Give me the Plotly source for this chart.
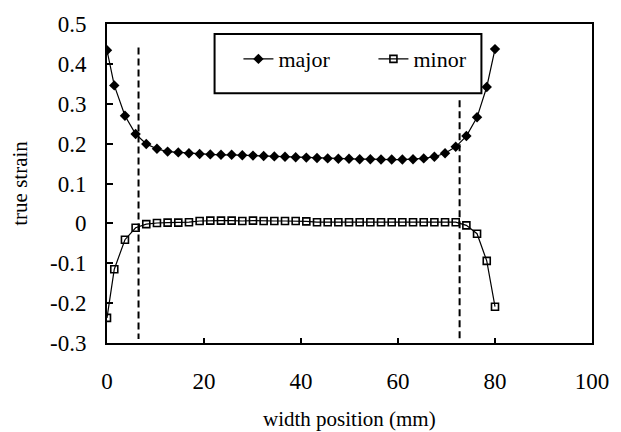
import plotly.graph_objects as go

# ---- data ----
width_pos = [0, 1.5, 3.7, 5.9, 8.1, 10.3, 12.5, 14.7, 16.9, 19.1, 21.3, 23.5, 25.7,
             27.9, 30.1, 32.3, 34.5, 36.7, 38.9, 41.1, 43.3, 45.5, 47.7, 49.9, 52.1,
             54.3, 56.5, 58.7, 60.9, 63.1, 65.3, 67.5, 69.7, 71.9, 74.1, 76.3, 78.3, 80]
major = [0.434, 0.346, 0.270, 0.224, 0.199, 0.187, 0.180, 0.178, 0.176, 0.174, 0.173,
         0.172, 0.172, 0.171, 0.170, 0.169, 0.168, 0.167, 0.166, 0.165, 0.164, 0.163,
         0.162, 0.162, 0.161, 0.161, 0.160, 0.160, 0.160, 0.161, 0.163, 0.167, 0.176,
         0.192, 0.219, 0.266, 0.342, 0.437]
minor = [-0.237, -0.115, -0.041, -0.011, -0.002, 0.001, 0.002, 0.002, 0.003, 0.006,
         0.007, 0.007, 0.007, 0.006, 0.007, 0.006, 0.006, 0.006, 0.006, 0.005, 0.003,
         0.003, 0.003, 0.003, 0.003, 0.003, 0.003, 0.003, 0.003, 0.003, 0.003, 0.003,
         0.003, 0.003, -0.005, -0.026, -0.094, -0.209]

boundary_x = [6.5, 72.7]
boundary_top = [0.441, 0.309]
boundary_bottom = [-0.29, -0.29]

x_ticks = [0, 20, 40, 60, 80, 100]
x_tick_labels = ["0", "20", "40", "60", "80", "100"]
y_ticks = [-0.3, -0.2, -0.1, 0, 0.1, 0.2, 0.3, 0.4, 0.5]
y_tick_labels = ["-0.3", "-0.2", "-0.1", "0", "0.1", "0.2", "0.3", "0.4", "0.5"]

FONT = "Liberation Serif"

fig = go.Figure()

for bx, bt, bb in zip(boundary_x, boundary_top, boundary_bottom):
    fig.add_trace(go.Scatter(x=[bx, bx], y=[bt, bb], mode="lines", showlegend=False,
                             hoverinfo="skip",
                             line=dict(color="black", width=2, dash="7px,4px")))

fig.add_trace(go.Scatter(x=width_pos, y=major, name="major", mode="lines+markers",
                         line=dict(color="black", width=1.2),
                         marker=dict(symbol="diamond", size=8, color="black")))
fig.add_trace(go.Scatter(x=width_pos, y=minor, name="minor", mode="lines+markers",
                         line=dict(color="black", width=1.2),
                         marker=dict(symbol="square-open", size=7, color="black",
                                     line=dict(width=1.6, color="black"))))

fig.update_layout(
    width=621, height=432,
    margin=dict(l=107, r=18, t=16, b=89),
    paper_bgcolor="white", plot_bgcolor="white",
    font=dict(family=FONT, color="black", size=20),
    showlegend=True,
    legend=dict(orientation="h", x=0.271, y=0.89, xanchor="left", yanchor="middle",
                bgcolor="rgba(0,0,0,0)", borderwidth=0,
                entrywidth=90, entrywidthmode="pixels",
                font=dict(family=FONT, size=22, color="black"),
                itemwidth=30),
    shapes=[dict(type="rect", xref="paper", yref="paper",
                 x0=0.2218, x1=0.772, y0=0.783, y1=0.969,
                 line=dict(color="black", width=2), fillcolor="white", layer="below")],
    annotations=[
        dict(text="width position (mm)", xref="paper", yref="paper", x=0.5, y=-0.238,
             xanchor="center", yanchor="middle", showarrow=False,
             font=dict(family=FONT, size=21, color="black")),
        dict(text="true strain", xref="paper", yref="paper", x=-0.181, y=0.5,
             xanchor="center", yanchor="middle", textangle=-90, showarrow=False,
             font=dict(family=FONT, size=21, color="black")),
    ],
)

fig.update_xaxes(range=[0, 100], tickvals=x_ticks, ticktext=x_tick_labels,
                 showline=True, linecolor="black", linewidth=2, mirror=True,
                 ticks="inside", ticklen=5, tickwidth=1.5, tickcolor="black",
                 showgrid=False, zeroline=False, ticklabelstandoff=16,
                 tickfont=dict(family=FONT, size=23, color="black"))
fig.update_yaxes(range=[-0.3, 0.5], tickvals=y_ticks, ticktext=y_tick_labels,
                 showline=True, linecolor="black", linewidth=2, mirror=True,
                 ticks="inside", ticklen=6, tickwidth=1.5, tickcolor="black",
                 showgrid=False, zeroline=False, ticklabelstandoff=14,
                 tickfont=dict(family=FONT, size=23, color="black"))

fig.write_html("out.html")
